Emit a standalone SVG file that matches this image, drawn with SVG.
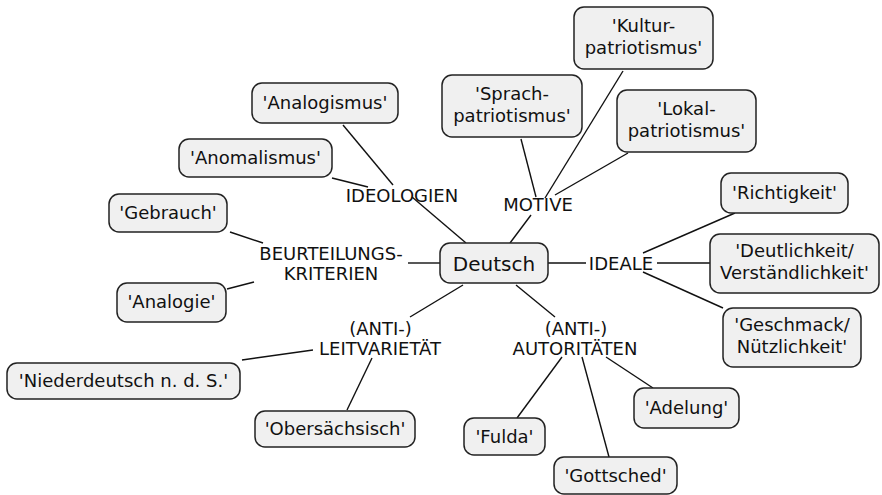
<svg xmlns="http://www.w3.org/2000/svg" width="882" height="495" viewBox="0 0 882 495">
<style>
.box{fill:#f0f0f0;stroke:#222;stroke-width:1.5}
.t{font-family:"DejaVu Sans",Verdana,sans-serif;font-size:18px;fill:#111;text-anchor:middle}
.big{font-size:20px}
#connectors line{stroke:#111;stroke-width:1.4}
</style>
<rect width="882" height="495" fill="#fff"/>
<g id="connectors">
<line x1="510" y1="243" x2="531" y2="215"/>
<line x1="521" y1="139" x2="536" y2="197"/>
<line x1="623" y1="71" x2="545" y2="198"/>
<line x1="628" y1="153" x2="555" y2="195"/>
<line x1="466" y1="243" x2="412" y2="197"/>
<line x1="343" y1="125" x2="393" y2="185"/>
<line x1="332" y1="178" x2="368" y2="187"/>
<line x1="440" y1="263" x2="408" y2="263"/>
<line x1="230" y1="232" x2="263" y2="243"/>
<line x1="227" y1="289" x2="254" y2="282"/>
<line x1="463" y1="285" x2="410" y2="317"/>
<line x1="242" y1="360" x2="313" y2="350"/>
<line x1="372" y1="358" x2="347" y2="410"/>
<line x1="516" y1="285" x2="555" y2="317"/>
<line x1="562" y1="357" x2="517" y2="418"/>
<line x1="582" y1="357" x2="609" y2="457"/>
<line x1="606" y1="357" x2="653" y2="388"/>
<line x1="548" y1="263" x2="586" y2="263"/>
<line x1="657" y1="263" x2="710" y2="263"/>
<line x1="643" y1="253" x2="735" y2="213"/>
<line x1="643" y1="272" x2="723" y2="308"/>
</g>
<g id="deutsch"><rect class="box" x="440" y="243" width="108" height="40" rx="10"/><text class="t big" x="494" y="271">Deutsch</text></g>
<g id="motive"><text class="t" x="538" y="211">MOTIVE</text></g>
<g id="kultur"><rect class="box" x="574" y="7" width="139" height="62" rx="10"/><text class="t" x="643.5" y="32">'Kultur-</text><text class="t" x="643.5" y="54">patriotismus'</text></g>
<g id="sprach"><rect class="box" x="442" y="75" width="140" height="62" rx="10"/><text class="t" x="512" y="100">'Sprach-</text><text class="t" x="512" y="122">patriotismus'</text></g>
<g id="lokal"><rect class="box" x="617" y="90" width="139" height="62" rx="10"/><text class="t" x="686.5" y="115">'Lokal-</text><text class="t" x="686.5" y="137">patriotismus'</text></g>
<g id="ideologien"><text class="t" x="402" y="202">IDEOLOGIEN</text></g>
<g id="analogismus"><rect class="box" x="252" y="83" width="146" height="40" rx="10"/><text class="t" x="325" y="109">'Analogismus'</text></g>
<g id="anomalismus"><rect class="box" x="179" y="139" width="153" height="38" rx="10"/><text class="t" x="255.5" y="164">'Anomalismus'</text></g>
<g id="beurteilung"><text class="t" x="331" y="260">BEURTEILUNGS-</text><text class="t" x="331" y="280">KRITERIEN</text></g>
<g id="gebrauch"><rect class="box" x="109" y="194" width="118" height="38" rx="10"/><text class="t" x="168" y="219">'Gebrauch'</text></g>
<g id="analogie"><rect class="box" x="117" y="283" width="109" height="39" rx="10"/><text class="t" x="171.5" y="308">'Analogie'</text></g>
<g id="leitvarietaet"><text class="t" x="380.5" y="335">(ANTI-)</text><text class="t" x="380" y="355">LEITVARIETÄT</text></g>
<g id="niederdeutsch"><rect class="box" x="7" y="363" width="233" height="36" rx="10"/><text class="t" x="123.5" y="387">'Niederdeutsch n. d. S.'</text></g>
<g id="obersaechsisch"><rect class="box" x="255" y="411" width="160" height="36" rx="10"/><text class="t" x="335" y="435">'Obersächsisch'</text></g>
<g id="autoritaeten"><text class="t" x="576" y="335">(ANTI-)</text><text class="t" x="575" y="355">AUTORITÄTEN</text></g>
<g id="fulda"><rect class="box" x="464" y="418" width="81" height="37" rx="10"/><text class="t" x="504.5" y="443">'Fulda'</text></g>
<g id="gottsched"><rect class="box" x="554" y="457" width="123" height="37" rx="10"/><text class="t" x="615.5" y="482">'Gottsched'</text></g>
<g id="adelung"><rect class="box" x="634" y="388" width="105" height="40" rx="10"/><text class="t" x="686.5" y="414">'Adelung'</text></g>
<g id="ideale"><text class="t" x="621" y="270">IDEALE</text></g>
<g id="richtigkeit"><rect class="box" x="721" y="173" width="127" height="40" rx="10"/><text class="t" x="784.5" y="199">'Richtigkeit'</text></g>
<g id="deutlichkeit"><rect class="box" x="710" y="234" width="169" height="59" rx="10"/><text class="t" x="794.5" y="257">'Deutlichkeit/</text><text class="t" x="794.5" y="279">Verständlichkeit'</text></g>
<g id="geschmack"><rect class="box" x="723" y="308" width="138" height="59" rx="10"/><text class="t" x="792" y="331">'Geschmack/</text><text class="t" x="792" y="353">Nützlichkeit'</text></g>
</svg>
